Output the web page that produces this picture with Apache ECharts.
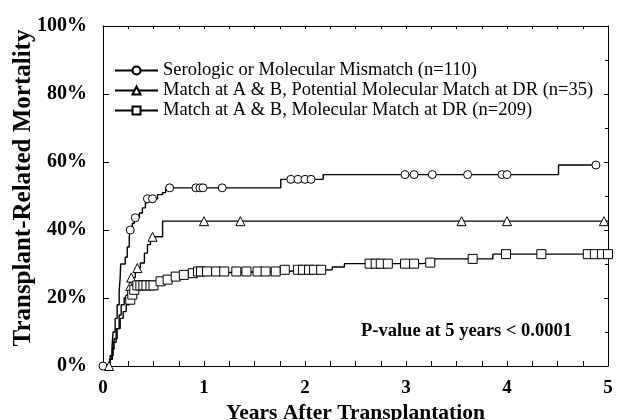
<!DOCTYPE html>
<html>
<head>
<meta charset="utf-8">
<script src="https://cdn.jsdelivr.net/npm/echarts@6/dist/echarts.min.js"></script>
<style>
  html, body { margin: 0; padding: 0; background: #fff; }
  #chart { width: 618px; height: 420px; }
</style>
</head>
<body>
<div id="chart"></div>
<script>
// group names (legend)
var groupNames = [
  'Serologic or Molecular Mismatch (n=110)',
  'Match at A & B, Potential Molecular Match at DR (n=35)',
  'Match at A & B, Molecular Match at DR (n=209)'
];

// step points [years, %] : value holds from that time on
var mismatchSteps = [[0,0],[0.07,2],[0.09,6],[0.1,10],[0.12,14],[0.14,18],[0.16,22],[0.17,26],[0.175,30],
  [0.22,32],[0.24,35],[0.26,38],[0.27,40],[0.29,42],[0.31,43.6],[0.36,45],[0.39,46.5],[0.42,48],[0.44,49.2],
  [0.54,50.4],[0.59,51],[0.62,52.4],[1.76,54.9],[2.18,56.3],[4.51,59.1],[4.88,59.1]];
var mismatchCensor = [[0,0],[0.27,40],[0.32,43.6],[0.44,49.2],[0.49,49.2],[0.66,52.4],[0.92,52.4],[0.96,52.4],
  [0.99,52.4],[1.18,52.4],[1.86,54.9],[1.93,54.9],[2.0,54.9],[2.06,54.9],[2.99,56.3],[3.08,56.3],[3.26,56.3],
  [3.61,56.3],[3.95,56.3],[4.0,56.3],[4.88,59.1]];

var potentialSteps = [[0,0],[0.07,3],[0.1,7],[0.13,11],[0.16,15],[0.18,18],[0.21,20],[0.25,22],[0.27,24],
  [0.28,26],[0.32,28.8],[0.37,30.3],[0.41,33.2],[0.44,35.7],[0.47,38],[0.59,42.6],[5,42.6]];
var potentialCensor = [[0.06,0],[0.26,21],[0.27,23.5],[0.28,26],[0.34,28.8],[0.49,38],[1.0,42.6],[1.36,42.6],
  [3.55,42.6],[4.0,42.6],[4.96,42.6]];

var molecularSteps = [[0,0],[0.07,2],[0.09,5],[0.11,8],[0.14,11],[0.17,14],[0.2,16],[0.23,18],[0.26,19.5],
  [0.28,21],[0.3,22.4],[0.33,23.7],[0.52,24.3],[0.57,24.9],[0.62,25.4],[0.7,26.3],[0.78,26.8],[0.86,27.3],
  [0.92,27.8],[1.74,28.3],[2.27,29.1],[2.39,30.1],[3.15,30.4],[3.28,31.5],[3.86,32.9],[5,32.9]];
var molecularCensor = [[0.27,19.5],[0.29,21],[0.31,22.4],[0.34,23.7],[0.37,23.7],[0.4,23.7],[0.43,23.7],
  [0.47,23.7],[0.5,23.7],[0.57,24.9],[0.64,25.4],[0.72,26.3],[0.8,26.8],[0.89,27.3],[0.94,27.8],[0.97,27.8],
  [1.03,27.8],[1.12,27.8],[1.2,27.8],[1.32,27.8],[1.42,27.8],[1.53,27.8],[1.61,27.8],[1.71,27.8],[1.8,28.3],
  [1.93,28.3],[1.98,28.3],[2.04,28.3],[2.09,28.3],[2.16,28.3],[2.64,30.1],[2.7,30.1],[2.75,30.1],[2.82,30.1],
  [2.99,30.1],[3.08,30.1],[3.24,30.4],[3.66,31.5],[3.99,32.9],[4.34,32.9],[4.8,32.9],[4.87,32.9],[4.94,32.9],
  [5.0,32.9]];

var yTicks = [0, 20, 40, 60, 80, 100];
var pText = 'P-value at 5 years < 0.0001';

var serif = '"Liberation Serif", "Times New Roman", serif';
var chart = echarts.init(document.getElementById('chart'));

function curve(name, steps, censor, symbol, size) {
  return [
    {
      name: name, type: 'line', step: 'end', data: steps,
      showSymbol: false, symbol: symbol, symbolSize: size,
      lineStyle: { color: '#000', width: 1.4 },
      itemStyle: { color: '#fff', borderColor: '#000', borderWidth: 1 },
      z: 2
    },
    {
      name: name, type: 'scatter', data: censor,
      symbol: symbol, symbolSize: size,
      itemStyle: { color: '#fff', borderColor: '#000', borderWidth: 1, opacity: 1 },
      z: 3
    }
  ];
}

var option = {
  animation: false,
  backgroundColor: '#fff',
  grid: { left: 103, right: 10, top: 26, bottom: 54, outerBoundsMode: 'none' },
  legend: {
    data: groupNames,
    orient: 'vertical',
    left: 109, top: 56,
    itemWidth: 43, itemHeight: 10, itemGap: 1,
    textStyle: { fontFamily: serif, fontSize: 18.5, color: '#000' }
  },
  xAxis: [
    {
      type: 'value', min: 0, max: 5, interval: 1,
      name: 'Years After Transplantation', nameLocation: 'middle', nameGap: 36,
      nameTextStyle: { fontFamily: serif, fontWeight: 'bold', fontSize: 21.5, color: '#000' },
      axisLine: { lineStyle: { color: '#000', width: 1 } },
      axisTick: { inside: true, length: 5, lineStyle: { color: '#000' } },
      minorTick: { show: true, splitNumber: 4, length: 5, lineStyle: { color: '#000' } },
      axisLabel: { margin: 13, fontFamily: serif, fontWeight: 'bold', fontSize: 19, color: '#000' },
      splitLine: { show: false }
    },
    {
      type: 'value', min: 0, max: 5, interval: 1, position: 'top',
      axisLine: { show: true, onZero: false, lineStyle: { color: '#000', width: 1 } },
      axisTick: { inside: true, length: 3, lineStyle: { color: '#000' } },
      minorTick: { show: true, splitNumber: 4, length: 3, lineStyle: { color: '#000' } },
      axisLabel: { show: false }, splitLine: { show: false }
    }
  ],
  yAxis: [
    {
      type: 'value', min: yTicks[0], max: yTicks[yTicks.length - 1], interval: 20,
      name: 'Transplant-Related Mortality', nameLocation: 'middle', nameGap: 67, nameMoveOverlap: false,
      nameTextStyle: { fontFamily: serif, fontWeight: 'bold', fontSize: 25, color: '#000', padding: [0, 0, 0, 16] },
      axisLine: { show: true, lineStyle: { color: '#000', width: 1 } },
      axisTick: { inside: true, length: 6, lineStyle: { color: '#000' } },
      axisLabel: { margin: 16, formatter: '{value}%', fontFamily: serif, fontWeight: 'bold', fontSize: 20, color: '#000' },
      splitLine: { show: false }
    },
    {
      type: 'value', min: 0, max: 100, interval: 20, position: 'right',
      axisLine: { show: true, onZero: false, lineStyle: { color: '#000', width: 1 } },
      axisTick: { inside: true, length: 4, lineStyle: { color: '#000' } },
      minorTick: { show: true, splitNumber: 2, length: 3, lineStyle: { color: '#000' } },
      axisLabel: { show: false }, splitLine: { show: false }
    }
  ],
  graphic: [
    {
      type: 'text', left: 361, top: 322,
      style: { text: pText, font: 'bold 18.5px ' + serif, fill: '#000' }
    }
  ],
  series: [].concat(
    curve(groupNames[0], mismatchSteps, mismatchCensor, 'circle', 8),
    curve(groupNames[1], potentialSteps, potentialCensor, 'triangle', 9),
    curve(groupNames[2], molecularSteps, molecularCensor, 'rect', 9)
  )
};

chart.setOption(option);
</script>
</body>
</html>
